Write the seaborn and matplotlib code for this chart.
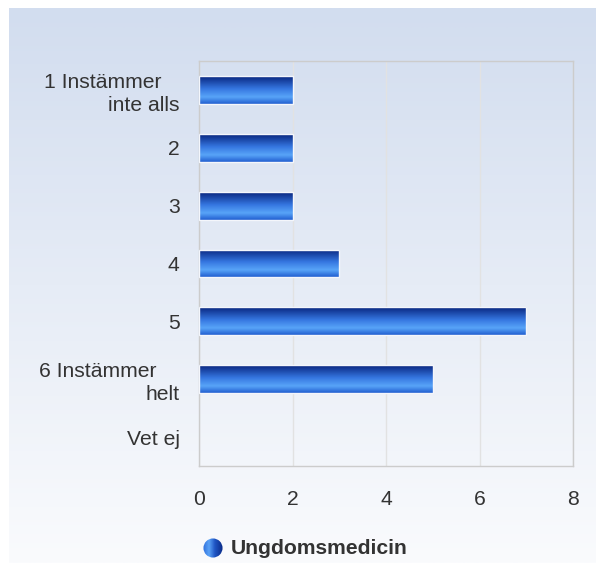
import numpy as np
import pandas as pd
import seaborn as sns
import matplotlib.pyplot as plt
from matplotlib.colors import LinearSegmentedColormap
from matplotlib.patches import Circle

# data
categories = ["1 Instämmer   \ninte alls", "2", "3", "4", "5", "6 Instämmer    \nhelt", "Vet ej"]
values = [2, 2, 2, 3, 7, 5, 0]
series_name = "Ungdomsmedicin"
xticks = [0, 2, 4, 6, 8]

sns.set_theme(style="white")
plt.rcParams["font.family"] = ["Liberation Sans", "DejaVu Sans"]
FS = 15.2

W, H = 596, 563
fig = plt.figure(figsize=(W / 100, H / 100), dpi=100)

# background panel with vertical gradient
bg = fig.add_axes([0, 0, 1, 1])
bg.set_xlim(0, W)
bg.set_ylim(H, 0)
bg.axis("off")
bg_cmap = LinearSegmentedColormap.from_list("bg", ["#d2ddef", "#e6ecf6", "#fafbfd"])
grad = np.linspace(0, 1, 256).reshape(-1, 1)
bg.imshow(grad, cmap=bg_cmap, extent=[9, W, H, 8], aspect="auto", zorder=0)

# plot area
left, right, top, bottom = 199, 573, 61, 466
ax = fig.add_axes([left / W, 1 - bottom / H, (right - left) / W, (bottom - top) / H])
ax.patch.set_alpha(0)

df = pd.DataFrame({"kategori": categories, "antal": values})
sns.barplot(data=df, x="antal", y="kategori", orient="h", ax=ax, width=0.48,
            color="#2a6ad8", zorder=3)

ax.set_xlim(0, 8)
ax.set_xticks(xticks)
ax.set_xlabel("")
ax.set_ylabel("")
ax.grid(axis="x", color="#e2e2e2", linewidth=1, zorder=0)
ax.grid(axis="y", visible=False)
for s in ax.spines.values():
    s.set_color("#cccccc")
    s.set_linewidth(1)
ax.tick_params(axis="x", length=0, pad=17, labelsize=FS, labelcolor="#333333")
ax.tick_params(axis="y", length=0, pad=14, labelsize=FS, labelcolor="#333333")
for lbl in ax.get_yticklabels():
    lbl.set_linespacing(1.25)
    lbl.set_horizontalalignment("right")
    lbl.set_multialignment("right")

# cylinder-like gradient on each bar
bar_cmap = LinearSegmentedColormap.from_list(
    "bar", [(0, "#08257e"), (0.45, "#3576e0"), (0.75, "#58a4f8"), (1, "#205ed0")])
ylim = ax.get_ylim()
bgrad = np.linspace(0, 1, 128).reshape(-1, 1)
for p in list(ax.patches):
    x0, y0 = p.get_x(), p.get_y()
    w, h = p.get_width(), p.get_height()
    if w <= 0:
        p.set_visible(False)
        continue
    im = ax.imshow(bgrad, cmap=bar_cmap, extent=[x0, x0 + w, y0 + h, y0],
                   aspect="auto", zorder=3, interpolation="bilinear")
    im.set_clip_path(p)
    p.set_facecolor("none")
    p.set_edgecolor("#f4f6fb")
    p.set_linewidth(1)
    p.set_zorder(4)
ax.set_xlim(0, 8)
ax.set_ylim(ylim)

# legend: gradient sphere + bold label
r = 9.5
cx, cy = 213, 548
lax = fig.add_axes([(cx - r - 1) / W, 1 - (cy + r + 1) / H, (2 * r + 2) / W, (2 * r + 2) / H])
lax.set_xlim(-1.1, 1.1)
lax.set_ylim(-1.1, 1.1)
lax.axis("off")
sph_cmap = LinearSegmentedColormap.from_list(
    "sph", [(0, "#2f6fdc"), (0.3, "#5aa2f6"), (0.6, "#1f55c4"), (1, "#0a2a86")])
hgrad = np.linspace(0, 1, 128).reshape(1, -1)
circ = Circle((0, 0), 1.0, transform=lax.transData, facecolor="none", edgecolor="none")
lax.add_patch(circ)
sim = lax.imshow(hgrad, cmap=sph_cmap, extent=[-1, 1, -1, 1], aspect="auto",
                 interpolation="bilinear")
sim.set_clip_path(circ)
fig.text(231 / W, 1 - cy / H, series_name, fontsize=FS, fontweight="bold",
         color="#333333", ha="left", va="center")

fig.savefig("out.png", dpi=100)
